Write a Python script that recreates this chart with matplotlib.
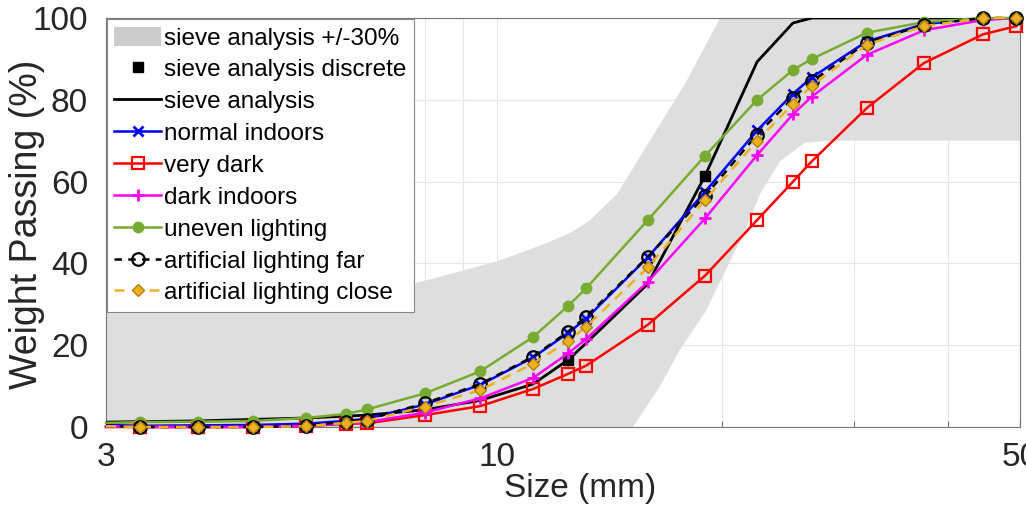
import matplotlib
matplotlib.use("Agg")
import matplotlib.pyplot as plt
from matplotlib import font_manager
from matplotlib.patches import Patch
from matplotlib.lines import Line2D
from matplotlib.ticker import FixedLocator, NullFormatter

# ---------------- data ----------------
sizes = [3.0, 3.33, 3.98, 4.72, 5.55, 6.28, 6.70, 8.0, 9.49, 11.17, 12.44, 13.15,
         15.9, 18.96, 22.26, 24.86, 26.35, 31.2, 37.2, 44.6, 49.4]

normal_indoors = [0.5, 0.3, 0.4, 0.5, 0.8, 1.5, 2.0, 5.5, 10.3, 17.0, 23.0, 26.5,
                  41.5, 57.5, 72.5, 81.5, 85.5, 94.3, 98.5, 100, 100]
very_dark = [0.0, 0.0, 0.0, 0.0, 0.2, 0.8, 0.9, 2.9, 5.1, 9.3, 13.0, 15.0,
             25.0, 37.0, 50.6, 60.0, 65.0, 78.0, 89.0, 96.0, 98.0]
dark_indoors = [0.2, 0.0, 0.0, 0.0, 0.3, 0.8, 1.2, 3.5, 7.0, 12.0, 18.0, 21.5,
                35.5, 51.0, 66.5, 76.5, 80.8, 91.0, 97.0, 99.5, 100]
uneven_lighting = [1.0, 1.2, 1.3, 1.5, 2.2, 3.2, 4.3, 8.2, 13.6, 22.0, 29.6, 33.9,
                   50.6, 66.3, 80.0, 87.3, 90.0, 96.4, 99.0, 100, 100]
artificial_far = [0.3, 0.0, 0.0, 0.0, 0.3, 1.3, 1.8, 5.8, 10.5, 17.2, 23.3, 27.0,
                  41.6, 56.5, 71.5, 80.5, 84.5, 94.0, 98.3, 100, 100]
artificial_close = [0.2, 0.0, 0.0, 0.0, 0.2, 1.0, 1.5, 5.0, 9.0, 15.5, 21.0, 24.5,
                    39.0, 55.5, 70.0, 79.0, 83.5, 93.5, 98.0, 100, 100]

sieve_x = [3.0, 4.0, 5.55, 6.7, 8.0, 9.49, 11.17, 12.44, 13.15, 15.9, 18.96,
           22.26, 24.86, 26.35, 31.2, 50.0]
sieve_y = [1.2, 1.5, 2.2, 2.9, 4.2, 6.5, 10.5, 16.4, 20.5, 35.0, 61.4,
           89.3, 98.8, 100, 100, 100]

sieve_discrete_x = [12.44, 18.96]
sieve_discrete_y = [16.4, 61.4]

band_upper_x = [3.0, 3.98, 5.45, 7.72, 10.0, 11.66, 12.52, 13.3, 13.73, 14.47,
                16.0, 17.84, 19.86, 50.0]
band_upper_y = [31.0, 31.8, 33.0, 35.0, 40.5, 45.0, 47.5, 50.5, 53.0, 57.0,
                70.0, 84.0, 100, 100]
band_lower_x = [3.0, 15.19, 16.51, 17.56, 18.96, 20.17, 21.45, 22.46, 23.89,
                25.79, 27.86, 50.0]
band_lower_y = [0.0, 0.0, 10.0, 19.0, 28.0, 38.0, 48.0, 57.0, 65.0, 69.5,
                70.0, 70.0]

x_ticks = [3, 10, 50]
x_ticklabels = ["3", "10", "50"]
x_minor = [4, 5, 6, 7, 8, 9, 20, 30, 40]
y_ticks = [0, 20, 40, 60, 80, 100]

labels = ["sieve analysis +/-30%", "sieve analysis discrete", "sieve analysis",
          "normal indoors", "very dark", "dark indoors", "uneven lighting",
          "artificial lighting far", "artificial lighting close"]

# ---------------- fonts ----------------
avail = {f.name for f in font_manager.fontManager.ttflist}
base_font = "Liberation Sans" if "Liberation Sans" in avail else "DejaVu Sans"
plt.rcParams["font.family"] = [base_font, "DejaVu Sans"]

# ---------------- figure ----------------
fig = plt.figure(figsize=(10.26, 5.09), dpi=100)
ax = fig.add_axes([0.1033, 0.1611, 0.8909, 0.8035])
ax.set_xscale("log")

band_poly_x = band_upper_x + band_lower_x[::-1]
band_poly_y = band_upper_y + band_lower_y[::-1]
ax.fill(band_poly_x, band_poly_y, color="#dedede", lw=0, zorder=1)

lw = 1.8
mark_all = list(range(1, len(sizes)))
ax.plot(sieve_discrete_x, sieve_discrete_y, ls="none", marker="s", ms=7,
        color="black", zorder=3)
ax.plot(sieve_x, sieve_y, color="black", lw=2.0, zorder=3)
ax.plot(sizes, normal_indoors, color="#0000ff", lw=lw, marker="x", ms=7, mew=2,
        markevery=mark_all, zorder=4)
ax.plot(sizes, very_dark, color="#ff0000", lw=lw, marker="s", ms=8, mew=1.6,
        mfc="none", markevery=mark_all, zorder=5, clip_on=False)
ax.plot(sizes, dark_indoors, color="#ff00ff", lw=lw, marker="+", ms=9, mew=2,
        markevery=mark_all, zorder=6, clip_on=False)
ax.plot(sizes, uneven_lighting, color="#77ac30", lw=lw, marker="o", ms=7.5,
        markevery=mark_all, zorder=7, clip_on=False)
ax.plot(sizes, artificial_far, color="black", lw=lw, ls=(0, (3, 2.5)), marker="o",
        ms=9, mew=1.6, mfc="none", markevery=mark_all, zorder=8, clip_on=False)
ax.plot(sizes, artificial_close, color="#edb120", lw=lw, ls=(0, (4, 3)), marker="D",
        ms=6.5, mec="#b08010", mew=1.0, markevery=mark_all, zorder=9, clip_on=False)

ax.set_xlim(3, 50)
ax.set_ylim(0, 100)
ax.xaxis.set_major_locator(FixedLocator(x_ticks))
ax.set_xticklabels(x_ticklabels)
ax.xaxis.set_minor_locator(FixedLocator(x_minor))
ax.xaxis.set_minor_formatter(NullFormatter())
ax.set_yticks(y_ticks)
ax.grid(True, which="both", color="#e6e6e6", lw=0.8, zorder=0)
ax.set_axisbelow(True)
ax.tick_params(which="both", direction="in", colors="#555555", labelcolor="#262626",
               labelsize=24)
ax.tick_params(axis="x", which="major", length=6, pad=11)
ax.tick_params(axis="y", which="major", length=6, pad=13)
ax.tick_params(which="minor", length=4)
for s in ax.spines.values():
    s.set_color("#777777")
    s.set_linewidth(0.8)

ax.set_xlabel("Size (mm)", fontsize=24, color="#262626", va="top")
ax.xaxis.set_label_coords(0.519, -0.113)
ax.set_ylabel("Weight Passing (%)", fontsize=27, color="#262626")
ax.yaxis.set_label_coords(-0.067, 0.495)

handles = [
    Patch(facecolor="#cccccc", edgecolor="none"),
    Line2D([], [], ls="none", marker="s", ms=7, color="black"),
    Line2D([], [], color="black", lw=2.0),
    Line2D([], [], color="#0000ff", lw=lw, marker="x", ms=7, mew=2),
    Line2D([], [], color="#ff0000", lw=lw, marker="s", ms=8, mew=1.6, mfc="none"),
    Line2D([], [], color="#ff00ff", lw=lw, marker="+", ms=9, mew=2),
    Line2D([], [], color="#77ac30", lw=lw, marker="o", ms=7.5),
    Line2D([], [], color="black", lw=lw, ls=(0, (3, 2.5)), marker="o", ms=9, mew=1.6, mfc="none"),
    Line2D([], [], color="#edb120", lw=lw, ls=(0, (4, 3)), marker="D", ms=6.5, mec="#b08010", mew=1.0),
]
leg = ax.legend(handles, labels, loc="upper left", bbox_to_anchor=(0.0, 1.0),
                prop={"family": base_font, "size": 17.5}, frameon=True, fancybox=False,
                edgecolor="#888888", framealpha=1, handlelength=1.9, handleheight=0.85,
                handletextpad=0.15, labelspacing=0.36, borderpad=0.3, borderaxespad=0.05)
leg.get_frame().set_linewidth(0.8)
leg.set_zorder(20)

fig.savefig("out.png", dpi=100)
